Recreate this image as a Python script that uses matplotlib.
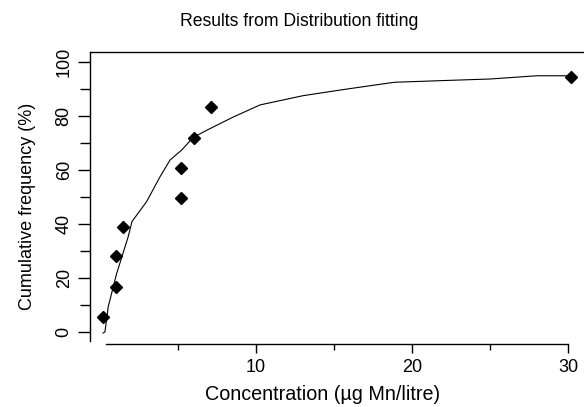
import matplotlib
matplotlib.use('Agg')
import matplotlib.pyplot as plt

# observed concentrations and cumulative frequencies
conc = [0.2, 1.0, 1.0, 1.5, 5.2, 5.2, 6.0, 7.1, 30.2]
freq = [5.6, 16.8, 28.0, 39.0, 49.7, 60.8, 72.0, 83.3, 94.6]

# fitted distribution curve
fit_x = [0.2, 0.32, 0.53, 1.07, 1.81, 2.05, 2.99, 3.85, 4.49, 5.24, 5.98,
         6.94, 8.5, 10.26, 13.0, 15.5, 17.9, 18.9, 21.9, 25.0, 28.0, 30.2]
fit_y = [-0.4, 0.1, 9.4, 21.7, 35.3, 40.9, 48.3, 57.5, 63.7, 67.4, 72.1,
         75.0, 79.5, 84.1, 87.5, 89.7, 91.7, 92.5, 93.1, 93.7, 94.9, 94.9]

plt.rcParams['font.family'] = ['Liberation Sans', 'DejaVu Sans']

fig = plt.figure(figsize=(5.84, 4.07), dpi=100)
ax = fig.add_axes([90 / 584, 63 / 407, 494 / 584, 292 / 407])

ax.plot(fit_x, fit_y, color='black', lw=0.8)
ax.plot(conc, freq, linestyle='none', marker='D', markersize=6.5,
        color='black')

ax.set_xlim(-0.64, 31.03)
ax.set_ylim(-4.44, 103.7)

ax.spines['right'].set_visible(False)
ax.spines['left'].set_bounds(-3.3, 103.7)
ax.spines['bottom'].set_bounds(0.37, 30)
for s in ax.spines.values():
    s.set_linewidth(1.0)

ax.set_xticks([10, 20, 30])
ax.set_xticks([5, 15, 25], minor=True)
ax.set_yticks([0, 20, 40, 60, 80, 100])
ax.set_yticks([10, 30, 50, 70, 90], minor=True)
ax.tick_params(axis='x', which='major', length=6.5, width=1, pad=4,
               labelsize=13)
ax.tick_params(axis='x', which='minor', length=4, width=1)
ax.tick_params(axis='y', which='major', length=8.5, width=1, pad=4,
               labelsize=13, labelrotation=90)
ax.tick_params(axis='y', which='minor', length=7, width=1)
for lab in ax.get_yticklabels():
    lab.set_va('center')

fig.text(299 / 584, 1 - 22 / 407, 'Results from Distribution fitting',
         fontsize=12.7, ha='center', va='center')
ax.set_xlabel('Concentration (µg Mn/litre)', fontsize=14.2)
ax.set_ylabel('Cumulative frequency (%)', fontsize=13)
ax.xaxis.set_label_coords(0.471, -0.14)
ax.yaxis.set_label_coords(-0.109, 0.47)

fig.savefig('out.png', dpi=100)
